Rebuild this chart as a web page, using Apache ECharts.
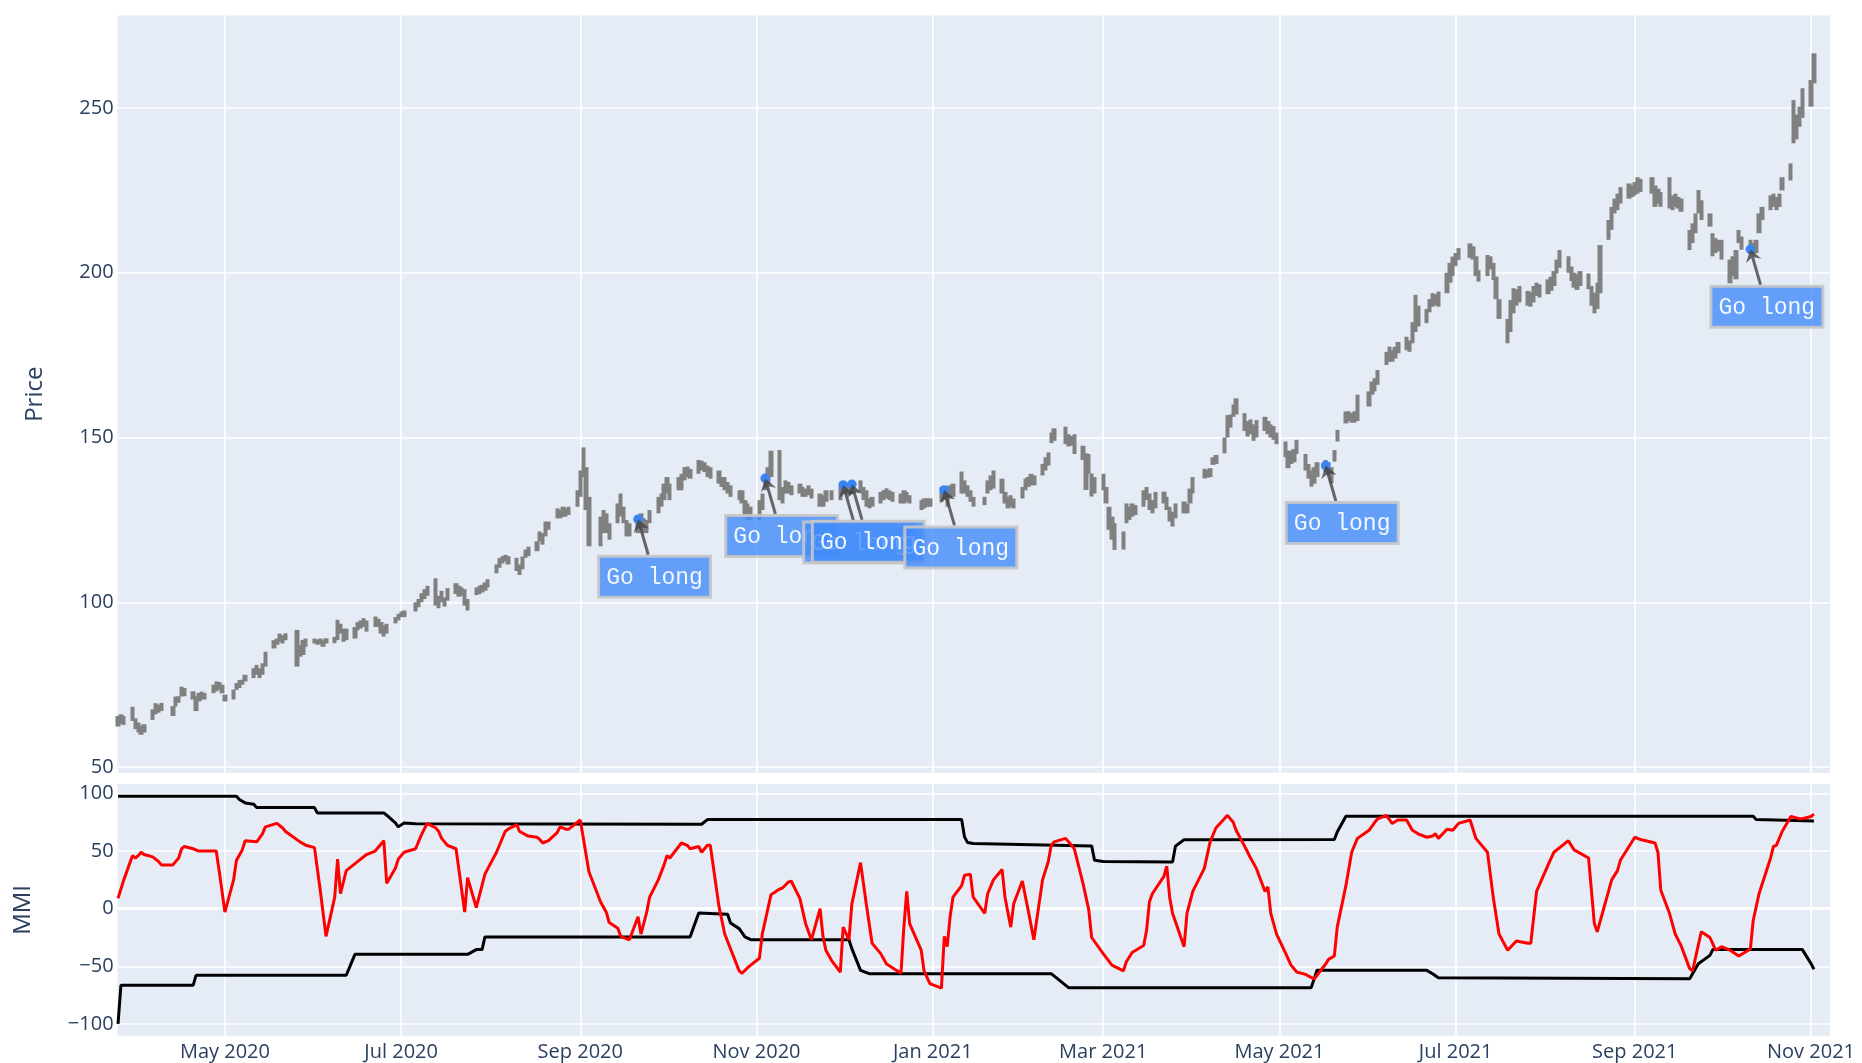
<!DOCTYPE html>
<html>
<head>
<meta charset="utf-8">
<title>Price / MMI</title>
<script src="https://cdn.jsdelivr.net/npm/echarts@6.0.0/dist/echarts.min.js"></script>
<style>
  html, body { margin: 0; padding: 0; background: #fff; }
  #main { width: 1862px; height: 1063px; }
</style>
</head>
<body>
<div id="main"></div>
<script>
// daily bar range: [day of month, low, high]
var p2020_03 = [[25,62.3,65.5],[26,63,66],[27,62.8,65.5],[30,64,68.3],[31,61.5,64.8]];
var p2020_04 = [[1,60.5,63.5],[2,59.8,62.5],[3,60.5,63],[6,64.3,67.5],[7,66,69.4],[8,66.5,69],[9,67,69.5],[13,65.5,68.5],[14,68.4,71.4],[15,69.5,71.5],[16,71.4,74.4],[17,71.5,74],[20,70.5,73],[21,67,71.5],[22,69.9,72.5],[23,70.5,72.9],[24,70.5,72.5],[27,72.4,75],[28,73,76],[29,73.5,75.8],[30,72.4,75]];
var p2020_05 = [[1,69.9,72],[4,70.5,73.5],[5,73.4,75.5],[6,74,76.4],[7,75,76.5],[8,76,78],[11,77,80],[12,78,81],[13,77,80],[14,78,81.5],[15,80.5,85],[18,86,88.5],[19,87.1,89],[20,88,90.5],[21,87.5,90],[22,88.5,90.6],[26,80.5,91.6],[27,83.5,87],[28,84,88.6],[29,86.5,89]];
var p2020_06 = [[1,87.5,89],[2,87.1,88.8],[3,87.3,89],[4,86.5,88.5],[5,87.5,89.1],[8,87.6,89.5],[9,88.5,94.7],[10,90.5,93.5],[11,88,92],[12,88.5,92],[15,89,92.5],[16,91.5,94],[17,92,94.5],[18,92.5,95.2],[19,91.1,94.5],[22,92.5,95.7],[23,92.5,95],[24,90.5,94],[25,89.6,93],[26,90.5,93.5],[29,93.6,95.5],[30,94.5,96.5]];
var p2020_07 = [[1,95.5,97.2],[2,95.5,97.5],[6,97.2,100],[7,98.5,101],[8,100,102.8],[9,101,104],[10,102,105],[13,99,107.3],[14,98.2,102],[15,100,103.5],[16,98.7,101.5],[17,100.5,104.3],[20,102.5,105.8],[21,101.7,105],[22,102,104.5],[23,99,104],[24,97.5,101],[27,102.2,104.5],[28,102.5,105],[29,103,105.3],[30,103.5,106],[31,104.5,107]];
var p2020_08 = [[3,108.8,111.5],[4,110.5,113.4],[5,111.8,114],[6,112.5,114.4],[7,111.5,114],[10,109.5,113.5],[11,108.3,111.5],[12,110,113.9],[13,113.5,116],[14,114,116.9],[17,115.5,118.5],[18,118.4,121.5],[19,117.5,121],[20,120,124.5],[21,122,124.5],[24,125.5,128.5],[25,125.5,128],[26,126,129],[27,126,128.5],[28,126.5,129],[31,129,134]];
var p2020_09 = [[1,132,140],[2,138,147],[3,128,141],[4,117,132],[8,117,126],[9,121,128],[10,121,127],[11,119,124],[14,124,130],[15,126,133],[16,124,129],[17,120,125],[18,120,124],[21,121,126.5],[22,122,127],[23,121,125.5],[24,121,125],[25,124,128],[28,127,132],[29,129,133],[30,131,136]];
var p2020_10 = [[1,133,138],[2,131,136],[5,134,138],[6,134,139],[7,137,141],[8,138,141.2],[9,137.5,140.5],[12,139,143.2],[13,140,143],[14,139.5,142.5],[15,138,141.5],[16,137.5,141],[19,136,140],[20,135,138],[21,134,138],[22,133,136.5],[23,132,135.5],[26,131,134],[27,130,134],[28,126,131],[29,125,130],[30,125,129]];
var p2020_11 = [[2,125,131],[3,128,133],[4,134,139],[5,136,141],[6,138,146],[9,131,146.2],[10,130,135],[11,133,137],[12,133,136.5],[13,132.5,135.5],[16,133,136],[17,132,135],[18,132,134.5],[19,132.5,135.5],[20,131.5,134.5],[23,129,133],[24,129,132.5],[25,130.5,134],[27,131,134],[30,131,135]];
var p2020_12 = [[1,133,136.5],[2,133,136],[3,132.5,135.5],[4,133,136.5],[7,133.5,137],[8,131,135],[9,129,134],[10,128.5,131.5],[11,129,132],[14,130,133.5],[15,131,134],[16,131.5,134.6],[17,131,134],[18,130.5,133.5],[21,130,133],[22,130,134],[23,130.5,133.5],[24,130,132.5],[28,128,131],[29,128.5,131.5],[30,129,131.6],[31,129,131.5]];
var p2021_01 = [[4,130.5,135],[5,131,134.5],[6,129,133.5],[7,131.5,135.5],[8,132,136],[11,133,139.7],[12,133,137],[13,132,135.5],[14,130.5,134],[15,129,132],[19,129.5,132],[20,133,137],[21,134,138.5],[22,134.5,140],[25,133,137.5],[26,130,133.5],[27,128.5,132],[28,129,132.5],[29,128.5,131.5]];
var p2021_02 = [[1,131.5,135],[2,134,137.5],[3,135,138],[4,135.5,139],[5,135.5,138.5],[8,138.5,142],[9,140,144],[10,141.5,145.5],[11,148.3,151.5],[12,149,152.8],[16,148,153.3],[17,147.3,151],[18,147.5,150.5],[19,145,151],[22,143.2,147.5],[23,134.1,145.2],[24,139,145],[25,132.1,139.1],[26,133,138]];
var p2021_03 = [[1,134,139],[2,130,135],[3,122,129],[4,119,126],[5,115.9,124],[8,116,121.5],[9,124,130],[10,125,129],[11,126,130],[12,126.5,129.5],[15,129,134],[16,131,135],[17,128,133],[18,127,131],[19,128.5,133.5],[22,130,133.6],[23,128,132],[24,124.5,129],[25,123,127.5],[26,125.5,130],[29,127,130.6],[30,127,130],[31,130,134.5]];
var p2021_04 = [[1,133,138],[5,137.6,140.5],[6,137.8,140.2],[7,138,140.7],[8,141.7,144],[9,142,144.7],[12,145.2,150],[13,150,156.8],[14,153,157],[15,156.3,160],[16,157,161.9],[19,152,157.4],[20,150.3,155],[21,151,155.5],[22,149,154],[23,150,155.3],[26,152,156.3],[27,151,155],[28,150,154],[29,149.3,153.5],[30,148,151.5]];
var p2021_05 = [[3,144,148.8],[4,140.7,146],[5,142,146],[6,142.5,146.5],[7,145,149.3],[10,140,145],[11,137.5,142],[12,135.1,140],[13,136,141],[14,138,142.5],[17,139.5,143.2],[18,138.5,142.5],[19,136.1,141],[20,142.7,146.2],[21,148.8,152.3],[24,154.3,157.9],[25,155,158],[26,154.5,157.5],[27,154.5,158],[28,155,163]];
var p2021_06 = [[1,159.4,164],[2,163,167],[3,164,168],[4,166,170.5],[7,172,176],[8,173,177.6],[9,173,176.5],[10,174,177.5],[11,175.6,179],[14,176.5,180.6],[15,176,179.5],[16,178.6,185],[17,182,193.3],[18,183.7,190],[21,184.7,189],[22,188,192],[23,189.7,193.8],[24,190,193.5],[25,189.7,194.3],[28,193.8,200],[29,197,203],[30,199,204.9]];
var p2021_07 = [[1,202,206],[2,203.9,207.5],[6,204.5,208.9],[7,204,208],[8,199,205],[9,197.3,200.8],[12,199,205.4],[13,201,205],[14,197.8,203],[15,192,198.8],[16,186,192],[19,178.6,186],[20,182,191.7],[21,187.7,195.3],[22,190,195],[23,191,196],[26,190,194.5],[27,189.7,194],[28,191,196],[29,193,197],[30,192.5,196.5]];
var p2021_08 = [[2,193.5,198],[3,194.5,198.8],[4,196,200.5],[5,199.8,204],[6,201.5,206.9],[9,200,205],[10,197.5,201.9],[11,195.5,200],[12,194.8,199.5],[13,196,200.5],[16,195,199.8],[17,190,196],[18,187.7,194],[19,189,197],[20,193.8,208.4],[23,210,216],[24,213,220],[25,218,222.5],[26,219,224],[27,221,226],[30,222.5,227.1],[31,223,226.5]];
var p2021_09 = [[1,223.5,227.5],[2,224,229],[3,224.5,228.5],[7,224,229],[8,220,226.5],[9,221,225.5],[10,220,224.5],[13,219.5,229],[14,219,223.5],[15,220,224],[16,219.5,223],[17,218.5,222.5],[20,206.9,213],[21,209,215],[22,212,218],[23,218,225.1],[24,216,222],[27,214,218],[28,205,212],[29,206,210.5],[30,206.5,210]];
var p2021_10 = [[1,204,210],[4,196.8,204],[5,199,205],[6,198,206.9],[7,209,213],[8,207,211],[11,206,210],[12,205.5,209],[13,206,210],[14,212,218],[15,216,220],[18,219,223.5],[19,220,224],[20,219,223],[21,220,224],[22,225,229],[25,228,233.2],[26,239.3,252.4],[27,240.5,248],[28,244.3,250.4],[29,247,256]];
var p2021_11 = [[1,250.4,258.5],[2,257.5,266.6]];

var priceMonths = [
  ['2020-03', p2020_03], ['2020-04', p2020_04], ['2020-05', p2020_05], ['2020-06', p2020_06],
  ['2020-07', p2020_07], ['2020-08', p2020_08], ['2020-09', p2020_09], ['2020-10', p2020_10],
  ['2020-11', p2020_11], ['2020-12', p2020_12], ['2021-01', p2021_01], ['2021-02', p2021_02],
  ['2021-03', p2021_03], ['2021-04', p2021_04], ['2021-05', p2021_05], ['2021-06', p2021_06],
  ['2021-07', p2021_07], ['2021-08', p2021_08], ['2021-09', p2021_09], ['2021-10', p2021_10],
  ['2021-11', p2021_11]
];

// "Go long" signals
var signalDates = ['2020-09-21', '2020-11-04', '2020-12-01', '2020-12-04', '2021-01-05', '2021-05-17', '2021-10-11'];
var signalPrices = [125.2, 137.6, 135.6, 135.8, 134.1, 141.5, 207.1];

// MMI and its bands (turning points)
var mmi = [['2020-03-25',9],['2020-03-27',25],['2020-03-30',46],['2020-03-31',44],['2020-04-01',46],['2020-04-02',49],['2020-04-03',47],['2020-04-06',45],['2020-04-08',41],['2020-04-09',38],['2020-04-13',38],['2020-04-15',44],['2020-04-16',52],['2020-04-17',54],['2020-04-20',52],['2020-04-22',50],['2020-04-28',50],['2020-04-29',33],['2020-05-01',-3],['2020-05-04',25],['2020-05-05',42],['2020-05-07',51],['2020-05-08',59],['2020-05-12',58],['2020-05-14',65],['2020-05-15',71],['2020-05-19',74],['2020-05-21',70],['2020-05-22',67],['2020-05-27',58],['2020-05-29',55],['2020-06-01',53],['2020-06-03',16],['2020-06-05',-24],['2020-06-08',10],['2020-06-09',43],['2020-06-10',13],['2020-06-12',33],['2020-06-16',41],['2020-06-19',47],['2020-06-22',50],['2020-06-25',59],['2020-06-26',22],['2020-06-29',35],['2020-06-30',43],['2020-07-02',49],['2020-07-06',52],['2020-07-08',64],['2020-07-10',74],['2020-07-13',70],['2020-07-14',67],['2020-07-15',61],['2020-07-17',55],['2020-07-20',52],['2020-07-23',-3],['2020-07-24',27],['2020-07-27',1],['2020-07-30',30],['2020-08-03',49],['2020-08-06',67],['2020-08-07',69],['2020-08-10',73],['2020-08-11',67],['2020-08-14',63],['2020-08-17',62],['2020-08-18',60],['2020-08-19',57],['2020-08-21',59],['2020-08-24',66],['2020-08-25',71],['2020-08-27',69],['2020-08-28',69],['2020-09-01',77],['2020-09-02',62],['2020-09-04',32],['2020-09-08',6],['2020-09-10',-3],['2020-09-11',-12],['2020-09-14',-17],['2020-09-15',-24],['2020-09-18',-27],['2020-09-21',-7],['2020-09-22',-22],['2020-09-24',-3],['2020-09-25',10],['2020-09-28',25],['2020-09-30',38],['2020-10-01',46],['2020-10-02',44],['2020-10-06',57],['2020-10-08',55],['2020-10-09',52],['2020-10-12',54],['2020-10-13',49],['2020-10-15',55],['2020-10-16',55],['2020-10-19',2],['2020-10-21',-22],['2020-10-26',-54],['2020-10-27',-56],['2020-10-29',-51],['2020-10-30',-49],['2020-11-02',-43],['2020-11-03',-22],['2020-11-06',12],['2020-11-09',17],['2020-11-10',18],['2020-11-12',23],['2020-11-13',24],['2020-11-16',9],['2020-11-18',-13],['2020-11-20',-27],['2020-11-23',0],['2020-11-24',-24],['2020-11-25',-36],['2020-11-27',-45],['2020-11-30',-55],['2020-12-01',-16],['2020-12-03',-27],['2020-12-04',4],['2020-12-07',40],['2020-12-09',4],['2020-12-10',-13],['2020-12-11',-30],['2020-12-14',-39],['2020-12-16',-48],['2020-12-21',-56],['2020-12-22',-16],['2020-12-23',15],['2020-12-24',-13],['2020-12-28',-36],['2020-12-29',-54],['2020-12-31',-65],['2021-01-04',-69],['2021-01-05',-24],['2021-01-06',-33],['2021-01-07',-7],['2021-01-08',10],['2021-01-11',20],['2021-01-12',29],['2021-01-14',30],['2021-01-15',10],['2021-01-19',-4],['2021-01-20',13],['2021-01-22',25],['2021-01-25',34],['2021-01-26',10],['2021-01-28',-16],['2021-01-29',4],['2021-02-01',24],['2021-02-03',-1],['2021-02-05',-27],['2021-02-08',25],['2021-02-10',41],['2021-02-11',55],['2021-02-12',58],['2021-02-16',61],['2021-02-18',55],['2021-02-19',52],['2021-02-22',22],['2021-02-24',-1],['2021-02-25',-25],['2021-03-01',-39],['2021-03-04',-49],['2021-03-08',-54],['2021-03-09',-46],['2021-03-11',-38],['2021-03-15',-32],['2021-03-16',-19],['2021-03-17',6],['2021-03-18',13],['2021-03-22',28],['2021-03-23',37],['2021-03-24',10],['2021-03-25',-4],['2021-03-29',-33],['2021-03-30',-4],['2021-04-01',15],['2021-04-05',35],['2021-04-07',58],['2021-04-09',70],['2021-04-13',81],['2021-04-15',75],['2021-04-16',68],['2021-04-19',54],['2021-04-21',44],['2021-04-23',35],['2021-04-26',15],['2021-04-27',19],['2021-04-28',-4],['2021-04-30',-22],['2021-05-03',-38],['2021-05-05',-49],['2021-05-07',-55],['2021-05-10',-57],['2021-05-13',-61],['2021-05-17',-48],['2021-05-18',-44],['2021-05-20',-41],['2021-05-21',-16],['2021-05-24',20],['2021-05-26',49],['2021-05-28',61],['2021-06-01',68],['2021-06-03',75],['2021-06-04',78],['2021-06-07',81],['2021-06-09',74],['2021-06-11',77],['2021-06-14',77],['2021-06-16',68],['2021-06-18',65],['2021-06-21',62],['2021-06-23',63],['2021-06-24',65],['2021-06-25',61],['2021-06-28',69],['2021-06-30',68],['2021-07-02',74],['2021-07-06',77],['2021-07-08',61],['2021-07-12',49],['2021-07-14',10],['2021-07-16',-22],['2021-07-19',-36],['2021-07-22',-28],['2021-07-26',-30],['2021-07-27',-30],['2021-07-29',15],['2021-08-02',38],['2021-08-04',49],['2021-08-09',59],['2021-08-11',51],['2021-08-16',44],['2021-08-18',-13],['2021-08-19',-20],['2021-08-24',25],['2021-08-26',33],['2021-08-27',42],['2021-09-01',62],['2021-09-03',60],['2021-09-08',57],['2021-09-09',49],['2021-09-10',16],['2021-09-13',-4],['2021-09-15',-22],['2021-09-17',-32],['2021-09-20',-52],['2021-09-21',-54],['2021-09-24',-20],['2021-09-27',-25],['2021-09-29',-36],['2021-10-01',-33],['2021-10-04',-36],['2021-10-07',-41],['2021-10-11',-35],['2021-10-12',-10],['2021-10-14',13],['2021-10-18',44],['2021-10-19',54],['2021-10-20',55],['2021-10-22',67],['2021-10-25',80],['2021-10-28',78],['2021-10-29',78],['2021-11-01',80],['2021-11-02',82]];
var mmiUpper = [['2020-03-25',97.5],['2020-05-05',97.5],['2020-05-06',94.7],['2020-05-08',91.8],['2020-05-11',90.6],['2020-05-12',87.7],['2020-06-01',87.7],['2020-06-02',83.1],['2020-06-25',83.1],['2020-06-26',81.1],['2020-06-29',74.4],['2020-06-30',71],['2020-07-02',74.4],['2020-07-06',73.8],['2020-10-13',73.3],['2020-10-15',77.3],['2021-01-11',77.3],['2021-01-12',62.3],['2021-01-13',57.5],['2021-01-15',56.5],['2021-02-25',54.5],['2021-02-26',42],['2021-03-01',41],['2021-03-25',40.6],['2021-03-26',54.2],['2021-03-29',59.9],['2021-05-20',60],['2021-05-21',66.6],['2021-05-24',80.2],['2021-10-12',80.2],['2021-10-13',77.3],['2021-11-02',76.2]];
var mmiLower = [['2020-03-25',-100],['2020-03-26',-66.5],['2020-04-20',-66.5],['2020-04-21',-57.8],['2020-06-12',-57.8],['2020-06-15',-39.6],['2020-07-24',-39.6],['2020-07-27',-35.5],['2020-07-29',-35.5],['2020-07-30',-24.5],['2020-10-09',-24.5],['2020-10-12',-3.7],['2020-10-22',-4.9],['2020-10-23',-12.4],['2020-10-26',-17.3],['2020-10-28',-24.5],['2020-10-30',-26.9],['2020-12-03',-26.9],['2020-12-04',-34.7],['2020-12-07',-53.5],['2020-12-10',-56.4],['2021-02-11',-56.4],['2021-02-17',-68.5],['2021-05-12',-68.5],['2021-05-14',-53.5],['2021-06-21',-53.5],['2021-06-23',-56.4],['2021-06-25',-59.9],['2021-09-20',-60.7],['2021-09-23',-47.7],['2021-09-27',-40.5],['2021-09-28',-35.5],['2021-10-29',-35.5],['2021-11-01',-47.7],['2021-11-02',-52.6]];

// axis ticks
var monthTicks = ['2020-05-01','2020-07-01','2020-09-01','2020-11-01','2021-01-01','2021-03-01','2021-05-01','2021-07-01','2021-09-01','2021-11-01'];
var priceTicks = [50, 100, 150, 200, 250];
var mmiTicks = [-100, -50, 0, 50, 100];
var monthNames = ['Jan','Feb','Mar','Apr','May','Jun','Jul','Aug','Sep','Oct','Nov','Dec'];

function toTime(s) {
  var a = s.split('-');
  return new Date(+a[0], +a[1] - 1, +a[2]).getTime();
}

var ohlc = [];
priceMonths.forEach(function (m) {
  m[1].forEach(function (d) {
    var day = (d[0] < 10 ? '0' : '') + d[0];
    ohlc.push([toTime(m[0] + '-' + day), d[1], d[2], d[1], d[2]]);
  });
});
var signals = signalDates.map(function (d, i) { return [toTime(d), signalPrices[i]]; });
function pts(arr) { return arr.map(function (d) { return [toTime(d[0]), d[1]]; }); }
var tickTimes = monthTicks.map(toTime);

var xMin = new Date(2020, 2, 24, 20, 30).getTime();
var xMax = new Date(2021, 10, 7, 13, 30).getTime();

var FONT = 'Open Sans';
var INK = '#2a3f5f';
var GRIDLINE = { color: '#ffffff', width: 1.6 };

function minus(v) { return String(v).replace('-', '\u2212'); }
function monthLabel(v) { var d = new Date(v); return monthNames[d.getMonth()] + ' ' + d.getFullYear(); }

// plotly-style annotation: arrow from a box below-right of the point
function renderSignal(params, api) {
  var p = api.coord([api.value(0), api.value(1)]);
  var px = p[0], py = p[1];
  var cx = px + 16.5, cy = py + 57.5;
  var bw = 112, bh = 41;
  var tx = px + 10.2, ty = py + 35.5;
  var dx = px - tx, dy = py - ty, len = Math.sqrt(dx * dx + dy * dy);
  var ux = dx / len, uy = dy / len, nx = -uy, ny = ux;
  var hl = 12, hw = 8, notch = 4;
  var bx = px - ux * hl, by = py - uy * hl;
  var mx = px - ux * (hl - notch), my = py - uy * (hl - notch);
  var arrowColor = 'rgba(68,68,68,0.8)';
  return {
    type: 'group',
    children: [
      { type: 'line', shape: { x1: tx, y1: ty, x2: mx, y2: my }, style: { stroke: arrowColor, lineWidth: 3 } },
      { type: 'polygon', shape: { points: [[px, py], [bx + nx * hw, by + ny * hw], [mx, my], [bx - nx * hw, by - ny * hw]] }, style: { fill: arrowColor } },
      { type: 'rect', shape: { x: cx - bw / 2, y: cy - bh / 2, width: bw, height: bh },
        style: { fill: 'rgba(66,140,250,0.8)', stroke: 'rgba(199,199,199,0.9)', lineWidth: 3 } },
      { type: 'text', x: cx, y: cy + 1,
        style: { text: 'Go long', fill: 'rgba(255,255,255,0.92)', fontSize: 23, fontFamily: 'Liberation Mono',
                 align: 'center', verticalAlign: 'middle' } }
    ]
  };
}

var chart = echarts.init(document.getElementById('main'));

var option = {
  animation: false,
  backgroundColor: '#ffffff',
  grid: [
    { left: 117.6, top: 15.4, width: 1712.4, height: 757.6, show: true, backgroundColor: '#E5ECF6', borderWidth: 0 },
    { left: 117.6, top: 784, width: 1712.4, height: 251.8, show: true, backgroundColor: '#E5ECF6', borderWidth: 0 }
  ],
  xAxis: [
    { type: 'value', gridIndex: 0, min: xMin, max: xMax, scale: true,
      axisLine: { show: false }, axisTick: { show: false, customValues: tickTimes },
      axisLabel: { show: false, customValues: tickTimes },
      splitLine: { show: true, lineStyle: GRIDLINE } },
    { type: 'value', gridIndex: 1, min: xMin, max: xMax, scale: true,
      axisLine: { show: false }, axisTick: { show: false, customValues: tickTimes },
      axisLabel: { customValues: tickTimes, color: INK, fontSize: 20, fontFamily: FONT, margin: 6, formatter: monthLabel },
      splitLine: { show: true, lineStyle: GRIDLINE } }
  ],
  yAxis: [
    { type: 'value', gridIndex: 0, min: 48.2, max: 278.1,
      name: 'Price', nameLocation: 'middle', nameGap: 70,
      nameTextStyle: { color: INK, fontSize: 24, fontFamily: FONT },
      axisLine: { show: false }, axisTick: { show: false, customValues: priceTicks },
      axisLabel: { customValues: priceTicks, color: INK, fontSize: 20, fontFamily: FONT, margin: 4 },
      splitLine: { show: true, lineStyle: GRIDLINE } },
    { type: 'value', gridIndex: 1, min: -110.3, max: 108.2,
      name: 'MMI', nameLocation: 'middle', nameGap: 82,
      nameTextStyle: { color: INK, fontSize: 24, fontFamily: FONT },
      axisLine: { show: false }, axisTick: { show: false, customValues: mmiTicks },
      axisLabel: { customValues: mmiTicks, color: INK, fontSize: 20, fontFamily: FONT, margin: 4, formatter: minus },
      splitLine: { show: true, lineStyle: GRIDLINE } }
  ],
  series: [
    { type: 'candlestick', name: 'Price', xAxisIndex: 0, yAxisIndex: 0,
      data: ohlc, encode: { x: 0, y: [1, 2, 3, 4] }, barWidth: 4.8, z: 2,
      itemStyle: { color: '#808080', color0: '#808080', borderColor: '#808080', borderColor0: '#808080', borderWidth: 0 } },
    { type: 'scatter', name: 'Go long', xAxisIndex: 0, yAxisIndex: 0,
      data: signals, symbol: 'circle', symbolSize: 9.6, z: 4,
      itemStyle: { color: '#3b84f4', opacity: 1 } },
    { type: 'custom', name: 'annotations', xAxisIndex: 0, yAxisIndex: 0,
      data: signals, encode: { x: 0, y: 1 }, renderItem: renderSignal, clip: false, z: 6, silent: true },
    { type: 'line', name: 'zero', xAxisIndex: 1, yAxisIndex: 1, data: [], z: 1,
      markLine: { silent: true, symbol: 'none', z: 1, label: { show: false },
        lineStyle: { color: '#ffffff', width: 3.2, type: 'solid' }, data: [{ yAxis: 0 }] } },
    { type: 'line', name: 'upper', xAxisIndex: 1, yAxisIndex: 1, data: pts(mmiUpper),
      showSymbol: false, z: 3, lineStyle: { color: '#000000', width: 3 }, itemStyle: { color: '#000000' } },
    { type: 'line', name: 'lower', xAxisIndex: 1, yAxisIndex: 1, data: pts(mmiLower),
      showSymbol: false, z: 3, lineStyle: { color: '#000000', width: 3 }, itemStyle: { color: '#000000' } },
    { type: 'line', name: 'MMI', xAxisIndex: 1, yAxisIndex: 1, data: pts(mmi),
      showSymbol: false, z: 4, lineStyle: { color: '#ff0000', width: 3 }, itemStyle: { color: '#ff0000' } }
  ]
};

chart.setOption(option);
</script>
</body>
</html>
